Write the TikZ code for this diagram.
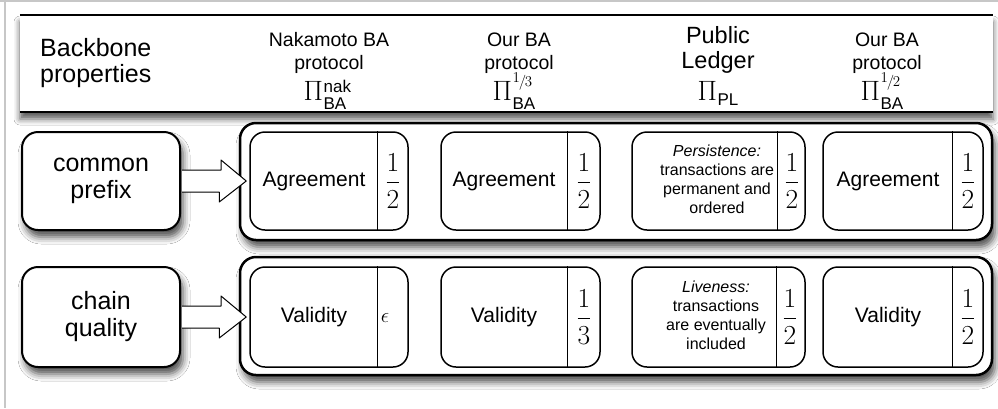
\RequirePackage{fix-cm}
\documentclass[tikz,border=0pt]{standalone}
\usepackage{amsmath}
\usepackage{fontspec}
\setmainfont{Liberation Sans}
\usetikzlibrary{shadows.blur}
\tikzset{
  shad/.style={blur shadow={shadow xshift=3pt, shadow yshift=-7pt, shadow blur radius=7pt, shadow opacity=70}},
  hdr/.style={fill=white, inner sep=0pt, minimum width=973pt, minimum height=97pt,
    blur shadow={shadow xshift=0pt, shadow yshift=-7pt, shadow blur radius=6pt, shadow opacity=65}},
  rule/.style={line width=2.5pt},
  htxt/.style={anchor=base, inner sep=0pt, font=\fontsize{#1}{#1}\selectfont},
  lbox/.style={draw, line width=2pt, rounded corners=16pt, fill=white, minimum width=158pt,
    align=center, font=\fontsize{25}{27}\selectfont, shad},
  obox/.style={draw, line width=2.5pt, rounded corners=16pt, fill=white, minimum width=752pt, shad},
  ibox/.style={draw, line width=1.5pt, rounded corners=15pt, fill=white},
  divl/.style={line width=1.5pt},
  itxt/.style={inner sep=0pt, font=\fontsize{21}{21}\selectfont},
  stxt/.style={inner sep=0pt, align=center, font=\fontsize{16}{19}\selectfont},
  frc/.style={inner sep=0pt, font=\fontsize{27.5}{27.5}\selectfont},
  arr/.style={draw, fill=white, line width=1pt, line join=round},
}
\newcommand\subt[1]{{\fontsize{17}{17}\selectfont #1}}
\newcommand\slfrac[2]{{\fontsize{15}{15}\selectfont\raisebox{4pt}{$#1$}\kern-1pt$/$\kern-1.5pt$#2$}}
\begin{document}
\begin{tikzpicture}[x=1pt,y=-1pt]
\useasboundingbox (0,0) rectangle (998,408);
\fill[white] (0,0) rectangle (998,408);
\draw[black!22, line width=1.2pt] (0,1) -- (998,1) (5,0) -- (5,408);

% header band
\node[hdr] (hdrbg) at (506.5,63.5) {};
\draw[rule] (hdrbg.north west) -- (hdrbg.north east);
\draw[rule] (hdrbg.south west) -- (hdrbg.south east);

\node[htxt=25, anchor=base west] (bb1) at (40,56) {Backbone};
\node[htxt=25, anchor=base west] (bb2) at (40,82) {properties};

\node[htxt=19.5] (c1a) at (329,46) {Nakamoto BA};
\node[htxt=19.5] (c1b) at (329,69) {protocol};
\node[htxt=28] (c1c) at (327,100) {$\Pi$\kern0.5pt\rlap{\raisebox{8pt}{\subt{nak}}}\raisebox{-9pt}{\subt{BA}}\kern4pt};

\node[htxt=19.5] (c2a) at (519,46) {Our BA};
\node[htxt=19.5] (c2b) at (519,69) {protocol};
\node[htxt=28] (c2c) at (516,100) {$\Pi$\kern0.5pt\rlap{\raisebox{14pt}{\slfrac{1}{3}}}\raisebox{-9pt}{\subt{BA}}\kern4pt};

\node[htxt=23.5] (c3a) at (718,43) {Public};
\node[htxt=23.5] (c3b) at (718,68) {Ledger};
\node[htxt=28] (c3c) at (718,100) {$\Pi$\kern0.5pt\raisebox{-5pt}{\subt{PL}}};

\node[htxt=19.5] (c4a) at (887,46) {Our BA};
\node[htxt=19.5] (c4b) at (887,69) {protocol};
\node[htxt=28] (c4c) at (884,100) {$\Pi$\kern0.5pt\rlap{\raisebox{14pt}{\slfrac{1}{2}}}\raisebox{-9pt}{\subt{BA}}\kern4pt};

% left property boxes
\node[lbox, minimum height=98pt] (cp) at (101,181) {common\\prefix};
\node[lbox, minimum height=100pt] (cq) at (101,317) {chain\\quality};

% outer containers
\node[obox, minimum height=117pt] (o1) at (616,181.5) {};
\node[obox, minimum height=118pt] (o2) at (616,316) {};

% row 1
\node[ibox, minimum width=158pt, minimum height=98pt] (a1) at (329,181) {};
\draw[divl] ([xshift=128pt]a1.north west) -- ([xshift=128pt]a1.south west);
\node[itxt] (a1t) at (314,181) {Agreement};
\node[frc] (a1f) at (393,181) {$\displaystyle\frac{1}{2}$};

\node[ibox, minimum width=159pt, minimum height=98pt] (a2) at (520.5,181) {};
\draw[divl] ([xshift=127pt]a2.north west) -- ([xshift=127pt]a2.south west);
\node[itxt] (a2t) at (504,181) {Agreement};
\node[frc] (a2f) at (584,181) {$\displaystyle\frac{1}{2}$};

\node[ibox, minimum width=173pt, minimum height=98pt] (a3) at (718.5,181) {};
\draw[divl] ([xshift=146pt]a3.north west) -- ([xshift=146pt]a3.south west);
\node[stxt] (a3t) at (717,179) {\textit{Persistence:}\\transactions are\\permanent and\\ordered};
\node[frc] (a3f) at (792,181) {$\displaystyle\frac{1}{2}$};

\node[ibox, minimum width=160pt, minimum height=98pt] (a4) at (903,181) {};
\draw[divl] ([xshift=130pt]a4.north west) -- ([xshift=130pt]a4.south west);
\node[itxt] (a4t) at (888,181) {Agreement};
\node[frc] (a4f) at (968,181) {$\displaystyle\frac{1}{2}$};

% row 2
\node[ibox, minimum width=158pt, minimum height=100pt] (v1) at (329,317) {};
\draw[divl] ([xshift=128pt]v1.north west) -- ([xshift=128pt]v1.south west);
\node[itxt] (v1t) at (314,317) {Validity};
\node[itxt] (v1f) at (385,318) {$\epsilon$};

\node[ibox, minimum width=159pt, minimum height=100pt] (v2) at (520.5,317) {};
\draw[divl] ([xshift=127pt]v2.north west) -- ([xshift=127pt]v2.south west);
\node[itxt] (v2t) at (504,317) {Validity};
\node[frc] (v2f) at (584,317) {$\displaystyle\frac{1}{3}$};

\node[ibox, minimum width=173pt, minimum height=100pt] (v3) at (718.5,317) {};
\draw[divl] ([xshift=145pt]v3.north west) -- ([xshift=145pt]v3.south west);
\node[stxt] (v3t) at (716,315) {\textit{Liveness:}\\transactions\\are eventually\\included};
\node[frc] (v3f) at (790,317) {$\displaystyle\frac{1}{2}$};

\node[ibox, minimum width=160pt, minimum height=100pt] (v4) at (903,317) {};
\draw[divl] ([xshift=130pt]v4.north west) -- ([xshift=130pt]v4.south west);
\node[itxt] (v4t) at (888,317) {Validity};
\node[frc] (v4f) at (968,317) {$\displaystyle\frac{1}{2}$};

% block arrows
\path[arr] ([xshift=1pt,yshift=11pt]cp.east) -- ++(39,0) -- ++(0,-10) -- ([xshift=-3pt]a1.west)
  -- ++(-27,21) -- ++(0,-10) -- ([xshift=1pt,yshift=-11pt]cp.east);
\path[arr] ([xshift=1pt,yshift=11pt]cq.east) -- ++(39,0) -- ++(0,-10) -- ([xshift=-3pt]v1.west)
  -- ++(-27,21) -- ++(0,-10) -- ([xshift=1pt,yshift=-11pt]cq.east);
\end{tikzpicture}
\end{document}
